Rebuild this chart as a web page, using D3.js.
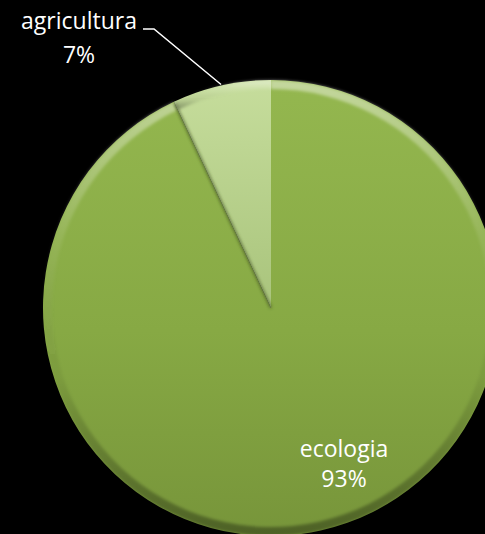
<!DOCTYPE html>
<html>
<head>
<meta charset="utf-8">
<script src="https://cdn.jsdelivr.net/npm/d3@7"></script>
<style>
  html, body { margin: 0; padding: 0; background: #000; }
  svg { display: block; }
</style>
</head>
<body>
<svg id="chart" width="485" height="534"></svg>
<script>
// Share of topics
const categories = ["ecologia", "agricultura"];
const values = [93, 7];
const percentLabels = ["93%", "7%"];

const W = 485, H = 534;
const cx = 271, cy = 308, R = 228;

const svg = d3.select("#chart");
const defs = svg.append("defs");

// Fill gradients for each slice
const gEco = defs.append("linearGradient").attr("id", "gEco")
  .attr("x1", 0).attr("y1", 0).attr("x2", 0).attr("y2", 1);
gEco.append("stop").attr("offset", 0).attr("stop-color", "#94b74f");
gEco.append("stop").attr("offset", 0.55).attr("stop-color", "#87a944");
gEco.append("stop").attr("offset", 1).attr("stop-color", "#77953a");

const gAgr = defs.append("linearGradient").attr("id", "gAgr")
  .attr("x1", 0).attr("y1", 0).attr("x2", 0).attr("y2", 1);
gAgr.append("stop").attr("offset", 0).attr("stop-color", "#c6dd9c");
gAgr.append("stop").attr("offset", 1).attr("stop-color", "#a9c47c");

// Rim bevel: light at the top, dark at the bottom
const gRim = defs.append("linearGradient").attr("id", "gRim")
  .attr("x1", 0).attr("y1", 0).attr("x2", 0).attr("y2", 1);
gRim.append("stop").attr("offset", 0).attr("stop-color", "#ffffff").attr("stop-opacity", 0.45);
gRim.append("stop").attr("offset", 0.35).attr("stop-color", "#ffffff").attr("stop-opacity", 0.08);
gRim.append("stop").attr("offset", 0.65).attr("stop-color", "#000000").attr("stop-opacity", 0.05);
gRim.append("stop").attr("offset", 1).attr("stop-color", "#000000").attr("stop-opacity", 0.35);

const soft = defs.append("filter").attr("id", "soft")
  .attr("x", "-10%").attr("y", "-10%").attr("width", "120%").attr("height", "120%");
soft.append("feGaussianBlur").attr("stdDeviation", 1.6);

const pie = d3.pie().sort(null).value(d => d);
const arcs = pie(values);
const arc = d3.arc().innerRadius(0).outerRadius(R);
const rim = d3.arc().innerRadius(R - 9).outerRadius(R);

const g = svg.append("g").attr("transform", `translate(${cx},${cy})`);
const fills = ["url(#gEco)", "url(#gAgr)"];

g.selectAll("path.slice").data(arcs).join("path")
  .attr("class", "slice")
  .attr("d", arc)
  .attr("fill", (d, i) => fills[i]);

// Rim highlight per slice
g.selectAll("path.rim").data(arcs).join("path")
  .attr("class", "rim")
  .attr("d", rim)
  .attr("fill", "url(#gRim)")
  .attr("filter", "url(#soft)");

// Shadowed edges of the small slice
const agr = arcs[1];
const edgeLine = d3.lineRadial();
[agr.startAngle, agr.endAngle].forEach((a, k) => {
  g.append("path")
    .attr("d", edgeLine([[a, 0], [a, R - 2]]))
    .attr("stroke", k === 0 ? "#3f4d22" : "#4e5f2c")
    .attr("stroke-width", k === 0 ? 2.2 : 1.6)
    .attr("stroke-opacity", 0.75)
    .attr("fill", "none")
    .attr("filter", "url(#soft)");
});

// Labels
const font = "'Open Sans', 'DejaVu Sans', sans-serif";
const labelPos = [
  { x: 344, y: 457, y2: 487 },
  { x: 79, y: 29, y2: 63 }
];
categories.forEach((c, i) => {
  const t = svg.append("text")
    .attr("x", labelPos[i].x).attr("text-anchor", "middle")
    .attr("fill", "#ffffff").attr("font-family", font).attr("font-size", 23);
  t.append("tspan").attr("x", labelPos[i].x).attr("y", labelPos[i].y).text(c);
  t.append("tspan").attr("x", labelPos[i].x).attr("y", labelPos[i].y2).text(percentLabels[i]);
});

// Leader line for the small slice
const mid = (agr.startAngle + agr.endAngle) / 2;
const tip = [cx + Math.sin(mid) * (R + 1), cy - Math.cos(mid) * (R + 1)];
svg.append("path")
  .attr("d", d3.line()([[143, 29], [154, 29], tip]))
  .attr("stroke", "#ffffff").attr("stroke-width", 1.5).attr("fill", "none");
</script>
</body>
</html>
